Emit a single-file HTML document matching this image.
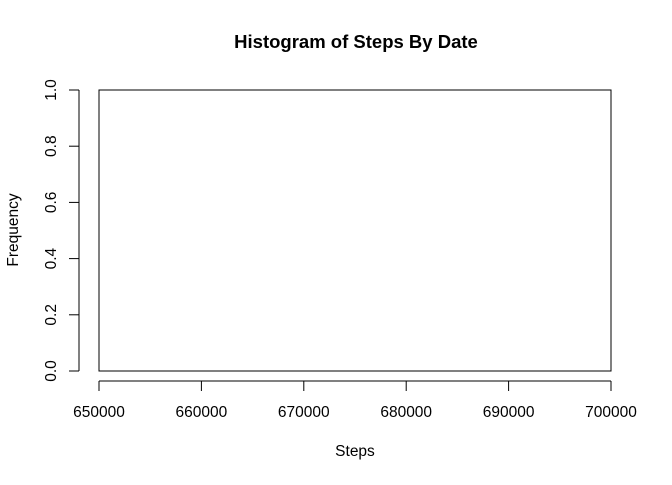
<!DOCTYPE html>
<html><head><meta charset="utf-8"><style>
html,body{margin:0;padding:0;background:#fff;}
svg text{font-family:"Liberation Sans",Arial,sans-serif;fill:#000;}
</style></head><body>
<svg width="672" height="480" viewBox="0 0 672 480" xmlns="http://www.w3.org/2000/svg">
<text x="356" y="48" text-anchor="middle" font-size="18.5" font-weight="bold">Histogram of Steps By Date</text>
<text x="355" y="456" text-anchor="middle" font-size="15.5">Steps</text>
<text transform="translate(18,230) rotate(-90)" text-anchor="middle" font-size="15.5">Frequency</text>
<g id="bars"></g>
<g id="xaxis"></g>
<g id="yaxis"></g>
</svg>
<script>
const binEdges=[650000,700000];
const counts=[1];
const xTicks=[650000,660000,670000,680000,690000,700000];
const yTicks=[0,0.2,0.4,0.6,0.8,1.0];
const NS="http://www.w3.org/2000/svg";
const X0=99,X1=611,Y0=371,Y1=90;
const xs=v=>X0+(v-650000)/(700000-650000)*(X1-X0);
const ys=v=>Y0-(v-0)/(1-0)*(Y0-Y1);
function mk(tag,attrs,parent){const e=document.createElementNS(NS,tag);for(const k in attrs)e.setAttribute(k,attrs[k]);parent.appendChild(e);return e;}
const bars=document.getElementById('bars');
counts.forEach((c,i)=>{
  const r=mk('rect',{x:xs(binEdges[i]),y:ys(c),width:xs(binEdges[i+1])-xs(binEdges[i]),height:ys(0)-ys(c),fill:'none',stroke:'#000','stroke-width':1},bars);
  
  
});
const xa=document.getElementById('xaxis');
mk('line',{x1:xs(xTicks[0]),x2:xs(xTicks[xTicks.length-1]),y1:381,y2:381,stroke:'#000'},xa);
xTicks.forEach(t=>{
  mk('line',{x1:xs(t),x2:xs(t),y1:381,y2:391,stroke:'#000'},xa);
  const tx=mk('text',{x:xs(t),y:417,'text-anchor':'middle','font-size':15.5},xa);
  tx.textContent=t;
  
  
});
const ya=document.getElementById('yaxis');
mk('line',{x1:79,x2:79,y1:ys(yTicks[0]),y2:ys(yTicks[yTicks.length-1]),stroke:'#000'},ya);
yTicks.forEach(t=>{
  mk('line',{x1:69,x2:79,y1:ys(t),y2:ys(t),stroke:'#000'},ya);
  const tx=mk('text',{transform:`translate(56,${ys(t)}) rotate(-90)`,'text-anchor':'middle','font-size':15.5},ya);
  tx.textContent=t.toFixed(1);
  
  
});
</script>
</body></html>
